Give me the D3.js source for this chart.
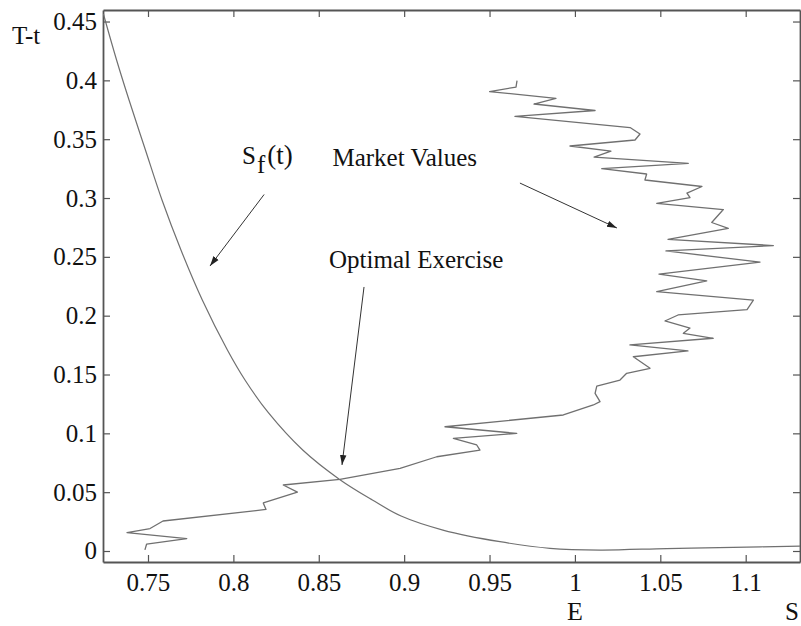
<!DOCTYPE html>
<html>
<head>
<meta charset="utf-8">
<script src="https://cdn.jsdelivr.net/npm/d3@7"></script>
<style>
  html, body { margin: 0; padding: 0; background: #fff; }
  svg { display: block; }
</style>
</head>
<body>
<svg id="chart" width="801" height="626"></svg>
<script>
// ---- data ----
const xTicks = [0.75, 0.8, 0.85, 0.9, 0.95, 1, 1.05, 1.1];
const yTicks = [0, 0.05, 0.1, 0.15, 0.2, 0.25, 0.3, 0.35, 0.4, 0.45];

// free boundary S_f(t): asset price S vs time to expiry T-t
const boundaryS = [0.7239, 0.7316, 0.7389, 0.7485, 0.7582, 0.7693, 0.7818, 0.7965, 0.8068, 0.8206, 0.8406, 0.8622, 0.8814, 0.8982, 0.9227, 0.9561, 0.9854, 1.0147, 1.0537, 1.0926, 1.1324];
const boundaryT = [0.4564, 0.4173, 0.3833, 0.3408, 0.2983, 0.2558, 0.2133, 0.1708, 0.1453, 0.1173, 0.0858, 0.0608, 0.0433, 0.0297, 0.0178, 0.0079, 0.0023, 0.0008, 0.0021, 0.0031, 0.0042];

// simulated market path
const marketS = [0.7482, 0.7492, 0.7727, 0.7377, 0.7512, 0.7588, 0.8191, 0.8175, 0.8375, 0.8292, 0.8624, 0.8976, 0.9191, 0.9444, 0.9425, 0.9288, 0.9659, 0.9239, 0.9932, 1.0108, 1.0147, 1.0118, 1.0128, 1.0264, 1.0303, 1.0440, 1.0342, 1.0662, 1.0322, 1.0810, 1.0635, 1.0674, 1.0527, 1.0604, 1.1008, 1.1045, 1.0479, 1.0772, 1.0492, 1.1084, 1.0533, 1.1162, 1.0545, 1.0898, 1.0801, 1.0869, 1.0479, 1.0674, 1.0656, 1.0744, 1.0410, 1.0420, 1.0157, 1.0664, 1.0112, 1.0211, 0.9971, 1.0352, 1.0381, 1.0323, 0.9649, 1.0118, 0.9760, 0.9889, 0.9500, 0.9655, 0.9661];
const marketT = [0.0010, 0.0059, 0.0106, 0.0157, 0.0191, 0.0255, 0.0353, 0.0408, 0.0501, 0.0561, 0.0609, 0.0703, 0.0801, 0.0858, 0.0901, 0.0958, 0.1000, 0.1056, 0.1156, 0.1241, 0.1269, 0.1340, 0.1402, 0.1453, 0.1510, 0.1553, 0.1651, 0.1700, 0.1751, 0.1808, 0.1850, 0.1895, 0.1955, 0.2006, 0.2052, 0.2133, 0.2204, 0.2295, 0.2354, 0.2456, 0.2550, 0.2596, 0.2649, 0.2742, 0.2792, 0.2902, 0.2955, 0.3004, 0.3042, 0.3098, 0.3153, 0.3204, 0.3249, 0.3295, 0.3348, 0.3398, 0.3442, 0.3493, 0.3544, 0.3599, 0.3694, 0.3744, 0.3799, 0.3847, 0.3905, 0.3943, 0.3998];

// annotations (data units)
const annoLabels = ["Market Values", "Optimal Exercise"];
const annoTextS = [0.8580, 0.8560];
const annoTextT = [0.3269, 0.2405];
// arrows: S_f(t), Market Values, Optimal Exercise
const arrowFromS = [0.8180, 0.9678, 0.8765];
const arrowFromT = [0.3030, 0.3127, 0.2244];
const arrowToS = [0.7863, 1.0246, 0.8636];
const arrowToT = [0.2422, 0.2745, 0.0731];

// ---- layout ----
const FONT = "'Liberation Serif', 'Times New Roman', 'DejaVu Serif', serif";
const svg = d3.select("#chart");
const mLeft = 103, mRight = 800, mTop = 10, mBottom = 562;
const x = d3.scaleLinear().domain([0.72365, 1.1318]).range([mLeft, mRight]);
const y = d3.scaleLinear().domain([-0.00935, 0.4598]).range([mBottom, mTop]);

const axisColor = "#555";
const fontSize = 25;

function styleAxis(g) {
  g.attr("font-family", null);
  g.selectAll("path.domain").attr("stroke", axisColor).attr("stroke-width", 1.8);
  g.selectAll(".tick line").attr("stroke", axisColor).attr("stroke-width", 1.2);
  g.selectAll(".tick text").style("font-family", FONT)
    .style("font-size", fontSize + "px").attr("fill", "#111");
}

svg.append("g").attr("transform", `translate(0,${mBottom})`)
  .call(d3.axisBottom(x).tickValues(xTicks).tickFormat(d3.format("~g")).tickSizeInner(-7).tickSizeOuter(0).tickPadding(11))
  .call(styleAxis);
svg.append("g").attr("transform", `translate(0,${mTop})`)
  .call(d3.axisTop(x).tickValues(xTicks).tickFormat("").tickSizeInner(-7).tickSizeOuter(0))
  .call(styleAxis);
svg.append("g").attr("transform", `translate(${mLeft},0)`)
  .call(d3.axisLeft(y).tickValues(yTicks).tickFormat(d3.format("~g")).tickSizeInner(-7).tickSizeOuter(0).tickPadding(6))
  .call(styleAxis);
svg.append("g").attr("transform", `translate(${mRight},0)`)
  .call(d3.axisRight(y).tickValues(yTicks).tickFormat("").tickSizeInner(-7).tickSizeOuter(0))
  .call(styleAxis);

svg.append("clipPath").attr("id", "clip").append("rect")
  .attr("x", mLeft).attr("y", mTop).attr("width", mRight - mLeft).attr("height", mBottom - mTop);

const plot = svg.append("g").attr("clip-path", "url(#clip)");

const boundary = boundaryS.map((s, i) => [s, boundaryT[i]]);
plot.append("path")
  .attr("d", d3.line().x(d => x(d[0])).y(d => y(d[1])).curve(d3.curveCatmullRom.alpha(0.5))(boundary))
  .attr("fill", "none").attr("stroke", "#707070").attr("stroke-width", 1.2);

const market = marketS.map((s, i) => [s, marketT[i]]);
plot.append("path")
  .attr("d", d3.line().x(d => x(d[0])).y(d => y(d[1]))(market))
  .attr("fill", "none").attr("stroke", "#707070").attr("stroke-width", 1.3)
  .attr("stroke-linejoin", "round");

const defs = svg.append("defs");
defs.append("marker").attr("id", "arrow").attr("viewBox", "0 0 10 10")
  .attr("refX", 10).attr("refY", 5).attr("markerWidth", 10).attr("markerHeight", 10)
  .attr("markerUnits", "userSpaceOnUse").attr("orient", "auto")
  .append("path").attr("d", "M0,1.8 L10,5 L0,8.2 Z").attr("fill", "#222");

arrowFromS.forEach((s, i) => {
  svg.append("line")
    .attr("x1", x(s)).attr("y1", y(arrowFromT[i]))
    .attr("x2", x(arrowToS[i])).attr("y2", y(arrowToT[i]))
    .attr("stroke", "#333").attr("stroke-width", 1)
    .attr("marker-end", "url(#arrow)");
});

function txt(xp, yp, size, s) {
  return svg.append("text").attr("x", xp).attr("y", yp)
    .style("font-family", FONT).style("font-size", size + "px").attr("fill", "#111").text(s);
}

annoLabels.forEach((t, i) => { txt(x(annoTextS[i]), y(annoTextT[i]), 25, t); });

// S_f(t) label
const sf = svg.append("text").attr("x", 242).attr("y", 164)
  .style("font-family", FONT).style("font-size", "25px").attr("fill", "#111");
sf.append("tspan").text("S");
sf.append("tspan").attr("dx", 1).attr("dy", 9).text("f");
sf.append("tspan").attr("dx", 2).attr("dy", -9).style("font-size", "27px").text("(t)");

txt(12, 44, 25, "T-t");
txt(x(1), 620, 26, "E").attr("text-anchor", "middle");
txt(785, 620, 25, "S");
</script>
</body>
</html>
